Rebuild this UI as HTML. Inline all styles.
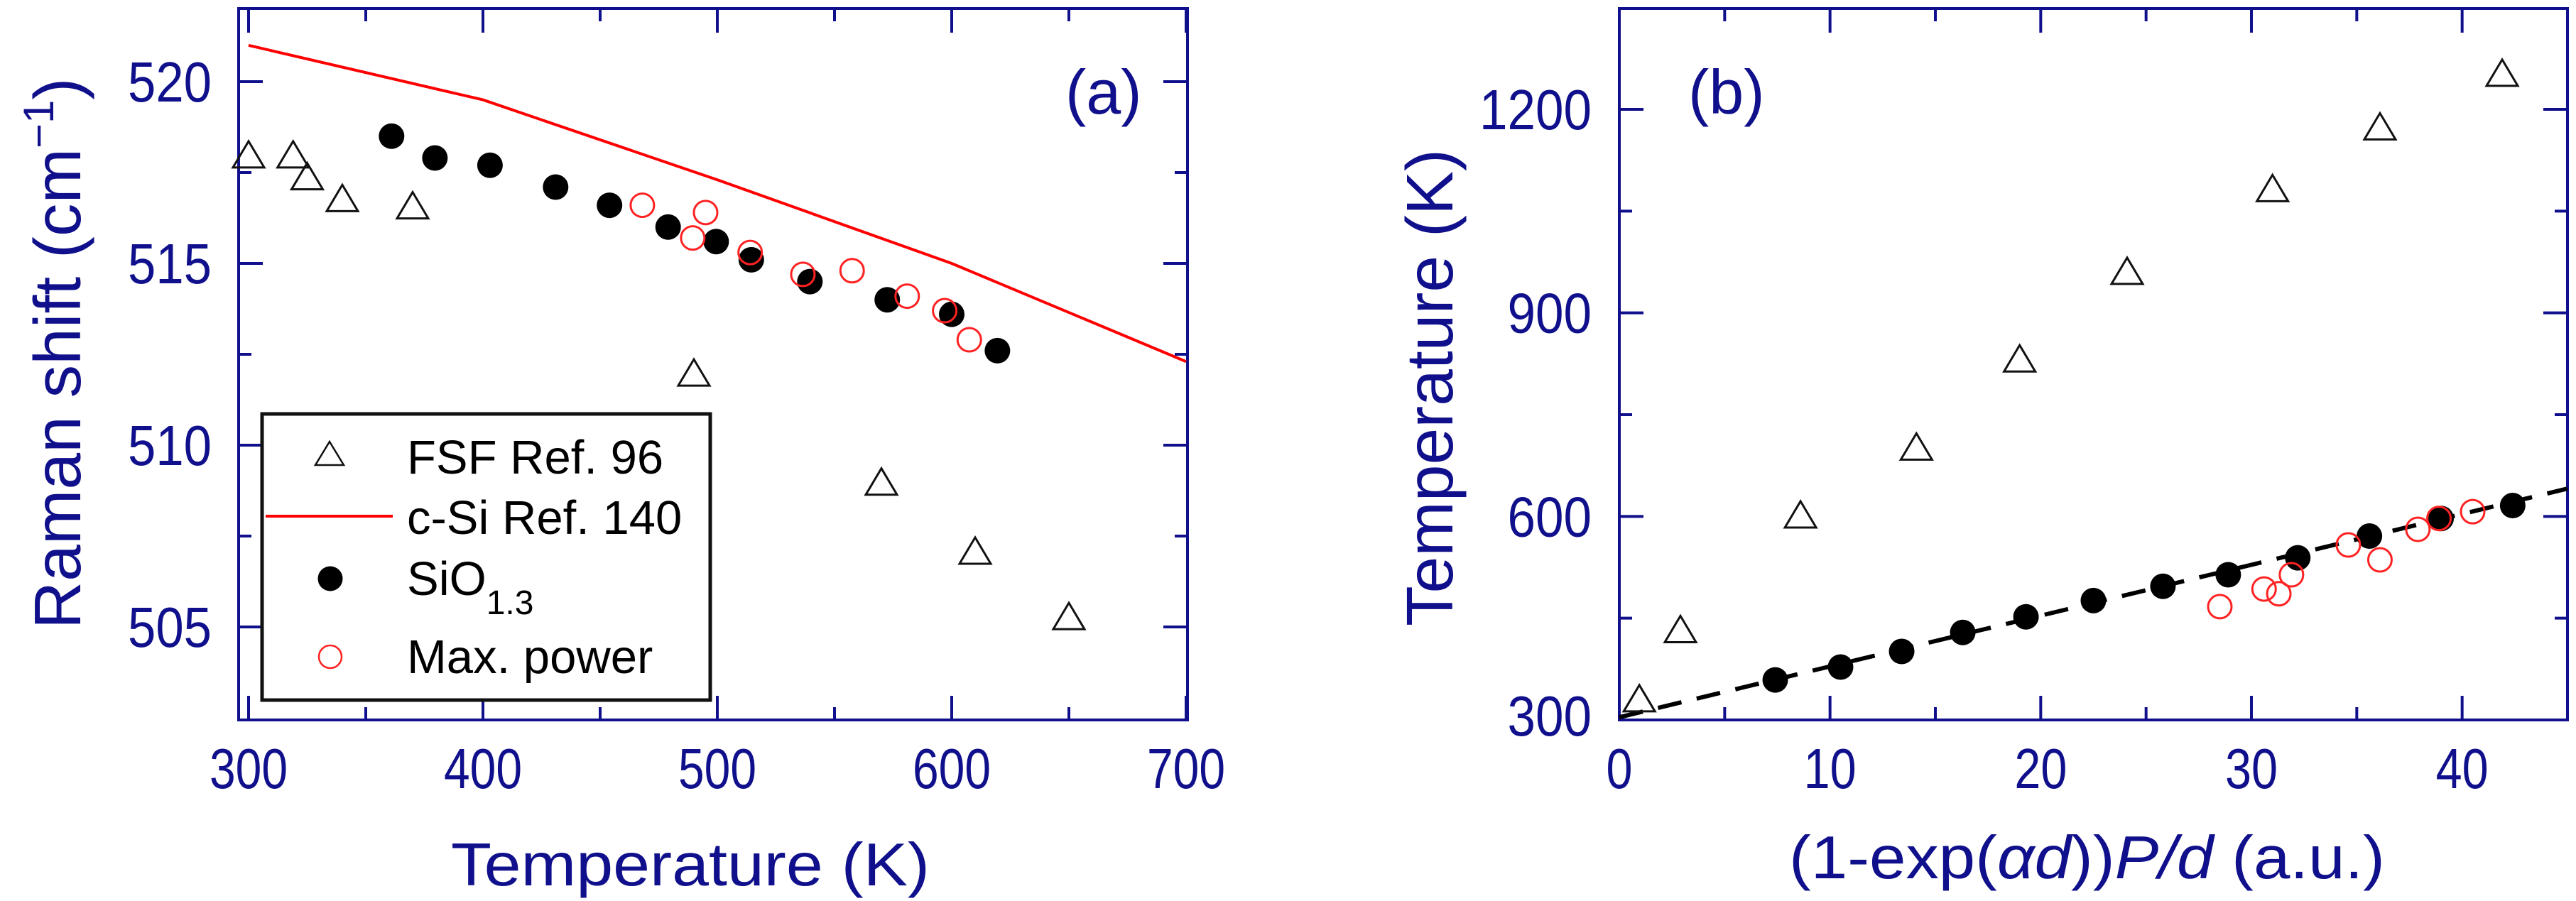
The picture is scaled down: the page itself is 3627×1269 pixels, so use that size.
<!DOCTYPE html>
<html><head><meta charset="utf-8">
<style>
html,body{margin:0;padding:0;background:#fff;}
svg{display:block;font-family:"Liberation Sans",Arial,sans-serif;}
</style></head>
<body>
<svg id="fig" width="3627" height="1269" viewBox="0 0 3627 1269" xmlns="http://www.w3.org/2000/svg">
<rect width="3627" height="1269" fill="#fff"/>
<g id="pa"></g>
<g id="pb"></g>
</svg>
<script>
// ---- Panel (a) data ----
const aFsfT = [300, 319, 325, 340, 370, 490, 570, 610, 650];
const aFsfR = [518.0, 518.0, 517.4, 516.8, 516.6, 512.0, 509.0, 507.1, 505.3];
const aCsiT = [300, 400, 500, 600, 700];
const aCsiR = [521.0, 519.5, 517.3, 515.0, 512.3];
const aSioT = [361, 379.5, 403, 431, 454, 479, 499.5, 514.5, 539.5, 572.5, 600, 619.5];
const aSioR = [518.5, 517.9, 517.7, 517.1, 516.6, 516.0, 515.6, 515.1, 514.5, 514.0, 513.6, 512.6];
const aMaxT = [468, 495, 489.5, 514, 536.5, 557.5, 581, 597, 607.5];
const aMaxR = [516.6, 516.4, 515.7, 515.3, 514.7, 514.8, 514.1, 513.7, 512.9];
const aXTicks = ["300", "400", "500", "600", "700"];
const aYTicks = ["505", "510", "515", "520"];
// ---- Panel (b) data ----
const bFsfX = [0.95, 2.9, 8.6, 14.1, 19.0, 24.1, 31.0, 36.1, 41.9];
const bFsfT = [332, 434, 603, 703, 833, 962, 1084, 1175, 1254];
const bSioX = [7.4, 10.5, 13.4, 16.3, 19.3, 22.5, 25.8, 28.9, 32.2, 35.6, 39.0, 42.4];
const bSioT = [359, 378, 401, 429, 452, 476, 497, 514, 539, 571, 597, 616];
const bMaxX = [28.5, 30.6, 31.3, 31.9, 34.6, 36.1, 37.9, 38.9, 40.5];
const bMaxT = [467, 493, 486, 514, 558, 536, 581, 597, 607];
const bFitX = [0, 45];
const bFitT = [304, 641];
const bXTicks = ["0", "10", "20", "30", "40"];
const bYTicks = ["300", "600", "900", "1200"];

const NS = "http://www.w3.org/2000/svg";
const AX = "#10108c";
function mk(parent, tag, attrs, text) {
  const e = document.createElementNS(NS, tag);
  for (const k in attrs) e.setAttribute(k, attrs[k]);
  if (text !== undefined) e.textContent = text;
  parent.appendChild(e);
  return e;
}
function lin(d0, d1, r0, r1) { return v => r0 + (v - d0) * (r1 - r0) / (d1 - d0); }

function triangle(g, cx, cy, name) {
  const w = 44, h = 37;
  const p = mk(g, "polygon", {points: `${cx},${cy - h/2} ${cx + w/2},${cy + h/2} ${cx - w/2},${cy + h/2}`, fill: "none", stroke: "#111", "stroke-width": 3});
  
  
}
function dot(g, cx, cy, name) {
  const c = mk(g, "circle", {cx: cx, cy: cy, r: 18, fill: "#000"});
  
  
}
function ring(g, cx, cy, name) {
  const c = mk(g, "circle", {cx: cx, cy: cy, r: 16.5, fill: "none", stroke: "#f22", "stroke-width": 3});
  
  
}

function frame(g, L, T, R, B, xs, ys, xMaj, xMin, yMaj, yMin) {
  const f = mk(g, "rect", {x: L, y: T, width: R - L, height: B - T, fill: "none", stroke: AX, "stroke-width": 4});
  
  
  const tg = mk(g, "g", {stroke: AX, "stroke-width": 4});
  
  
  xMaj.forEach(v => { const x = xs(v); mk(tg, "line", {x1: x, y1: B, x2: x, y2: B - 34}); mk(tg, "line", {x1: x, y1: T, x2: x, y2: T + 34}); });
  xMin.forEach(v => { const x = xs(v); mk(tg, "line", {x1: x, y1: B, x2: x, y2: B - 18}); mk(tg, "line", {x1: x, y1: T, x2: x, y2: T + 18}); });
  yMaj.forEach(v => { const y = ys(v); mk(tg, "line", {x1: L, y1: y, x2: L + 34, y2: y}); mk(tg, "line", {x1: R, y1: y, x2: R - 34, y2: y}); });
  yMin.forEach(v => { const y = ys(v); mk(tg, "line", {x1: L, y1: y, x2: L + 18, y2: y}); mk(tg, "line", {x1: R, y1: y, x2: R - 18, y2: y}); });
}

// ===== Panel A =====
(function () {
  const g = document.getElementById("pa");
  const L = 336, R = 1672, T = 12, B = 1014;
  const xs = lin(300, 700, 350, 1670);
  const ys = lin(520, 505, 115, 883);
  frame(g, L, T, R, B, xs, ys, aXTicks.map(Number), [350, 450, 550, 650], aYTicks.map(Number), [507.5, 512.5, 517.5]);
  aXTicks.forEach(t => {
    const e = mk(g, "text", {x: xs(+t) - 55, y: 1110, "font-size": 80, fill: AX, textLength: 110, lengthAdjust: "spacingAndGlyphs"}, t);
    
    
  });
  aYTicks.forEach(t => {
    const e = mk(g, "text", {x: 180, y: ys(+t) + 28, "font-size": 80, fill: AX, textLength: 118, lengthAdjust: "spacingAndGlyphs"}, t);
    
    
  });
  const xt = mk(g, "text", {x: 635, y: 1247, "font-size": 85, fill: AX, textLength: 674, lengthAdjust: "spacingAndGlyphs"}, "Temperature (K)");
  
  
  const yt = mk(g, "text", {transform: "translate(113,886) rotate(-90)", "font-size": 93, fill: AX});
  
  
  mk(yt, "tspan", {}, "Raman shift (cm");
  mk(yt, "tspan", {dy: -38, "font-size": 60}, "\u22121");
  mk(yt, "tspan", {dy: 38}, ")");
  const lab = mk(g, "text", {x: 1500, y: 160, "font-size": 88, fill: AX}, "(a)");
  
  

  const pts = aCsiT.map((t, i) => `${xs(t)},${ys(aCsiR[i])}`).join(" ");
  const line = mk(g, "polyline", {points: pts, fill: "none", stroke: "#f00", "stroke-width": 4});
  
  
  aFsfT.forEach((t, i) => triangle(g, xs(t), ys(aFsfR[i]), 'fsf-point'));
  aSioT.forEach((t, i) => dot(g, xs(t), ys(aSioR[i]), 'sio-point'));
  aMaxT.forEach((t, i) => ring(g, xs(t), ys(aMaxR[i]), 'max-power-point'));

  // legend
  const lg = mk(g, "g", {});
  
  
  mk(lg, "rect", {x: 369, y: 583, width: 631, height: 403, fill: "#fff", stroke: "#111", "stroke-width": 5});
  const p = mk(lg, "polygon", {points: "464,622 484,655 444,655", fill: "none", stroke: "#111", "stroke-width": 2.5});
  
  
  const ll = mk(lg, "line", {x1: 374, y1: 727, x2: 553, y2: 727, stroke: "#f00", "stroke-width": 4});
  
  
  const lc = mk(lg, "circle", {cx: 465, cy: 815, r: 17.5, fill: "#000"});
  
  
  const lr = mk(lg, "circle", {cx: 465, cy: 925, r: 16, fill: "none", stroke: "#f22", "stroke-width": 2.5});
  
  
  const t1 = mk(lg, "text", {x: 573, y: 667, "font-size": 67, fill: "#000"}, "FSF Ref. 96");
  
  
  const t2 = mk(lg, "text", {x: 573, y: 752, "font-size": 67, fill: "#000"}, "c-Si Ref. 140");
  
  
  const t3 = mk(lg, "text", {x: 573, y: 838, "font-size": 67, fill: "#000"}, "SiO");
  
  
  mk(t3, "tspan", {dy: 27, "font-size": 48}, "1.3");
  const t4 = mk(lg, "text", {x: 573, y: 948, "font-size": 67, fill: "#000"}, "Max. power");
  
  
})();

// ===== Panel B =====
(function () {
  const g = document.getElementById("pb");
  const L = 2280, R = 3615, T = 12, B = 1014;
  const xs = lin(0, 45, 2280, 3615);
  const ys = lin(1200, 300, 154, 1014);
  frame(g, L, T, R, B, xs, ys, bXTicks.map(Number), [5, 15, 25, 35], bYTicks.map(Number).filter(v => v > 300), [450, 750, 1050]);
  bXTicks.forEach(t => {
    const w = 37 * t.length;
    const e = mk(g, "text", {x: xs(+t) - w / 2, y: 1110, "font-size": 80, fill: AX, textLength: w, lengthAdjust: "spacingAndGlyphs"}, t);
    
    
  });
  bYTicks.forEach(t => {
    const w = 39.5 * t.length;
    const yy = t === "300" ? 1036 : ys(+t) + 28;
    const e = mk(g, "text", {x: 2241 - w, y: yy, "font-size": 80, fill: AX, textLength: w, lengthAdjust: "spacingAndGlyphs"}, t);
    
    
  });
  const xt = mk(g, "text", {x: 2519, y: 1237, "font-size": 85, fill: AX, textLength: 839, lengthAdjust: "spacingAndGlyphs"});
  
  
  mk(xt, "tspan", {}, "(1-exp(");
  mk(xt, "tspan", {"font-style": "italic"}, "\u03b1d");
  mk(xt, "tspan", {}, "))");
  mk(xt, "tspan", {"font-style": "italic"}, "P/d");
  mk(xt, "tspan", {}, " (a.u.)");
  const yt = mk(g, "text", {x: 0, y: 0, transform: "translate(2045,546) rotate(-90)", "font-size": 93, fill: AX, "text-anchor": "middle"}, "Temperature (K)");
  
  
  const lab = mk(g, "text", {x: 2377, y: 160, "font-size": 88, fill: AX}, "(b)");
  
  

  const fit = mk(g, "line", {x1: xs(bFitX[0]), y1: ys(bFitT[0]), x2: xs(bFitX[1]), y2: ys(bFitT[1]), stroke: "#000", "stroke-width": 6, "stroke-dasharray": "34 22"});
  
  
  bFsfX.forEach((x, i) => triangle(g, xs(x), ys(bFsfT[i]), 'fsf-point'));
  bSioX.forEach((x, i) => dot(g, xs(x), ys(bSioT[i]), 'sio-point'));
  bMaxX.forEach((x, i) => ring(g, xs(x), ys(bMaxT[i]), 'max-power-point'));
})();
</script>
</body></html>
